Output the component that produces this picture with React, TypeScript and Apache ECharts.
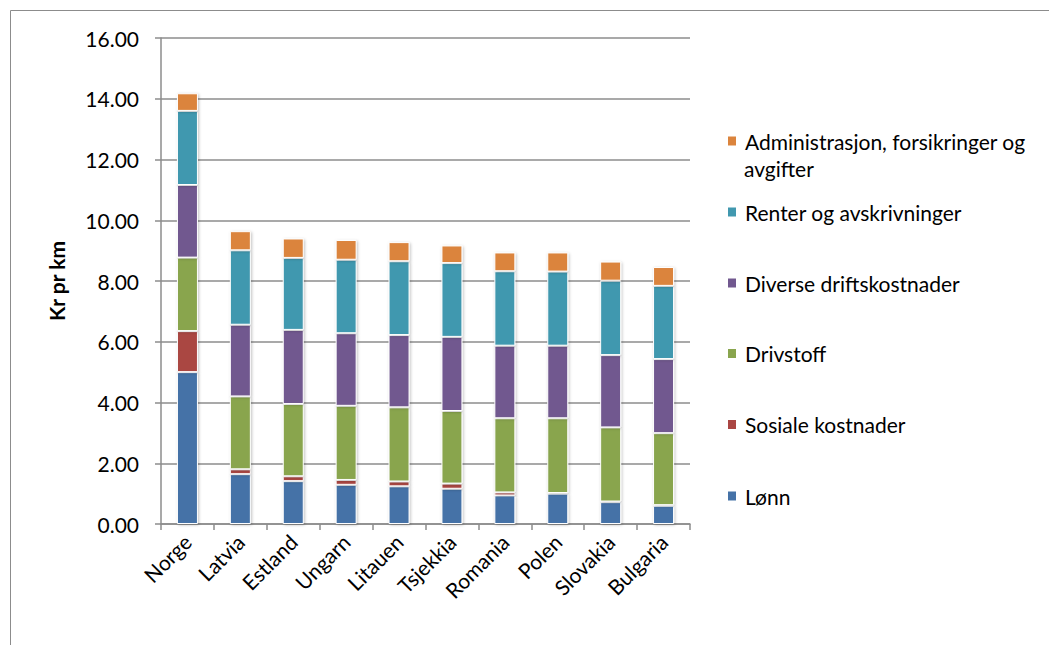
import React, { useEffect, useRef } from "react";
import * as echarts from "echarts";

const countries = ["Norge", "Latvia", "Estland", "Ungarn", "Litauen", "Tsjekkia", "Romania", "Polen", "Slovakia", "Bulgaria"];
const seriesNames = [
  "Lønn",
  "Sosiale kostnader",
  "Drivstoff",
  "Diverse driftskostnader",
  "Renter og avskrivninger",
  "Administrasjon, forsikringer og avgifter",
];
const lonn = [5.0, 1.64, 1.41, 1.29, 1.24, 1.16, 0.94, 1.0, 0.72, 0.6];
const sosiale = [1.35, 0.16, 0.16, 0.16, 0.16, 0.17, 0.1, 0.02, 0.02, 0.02];
const drivstoff = [2.42, 2.4, 2.38, 2.44, 2.44, 2.39, 2.44, 2.46, 2.44, 2.37];
const diverse = [2.39, 2.36, 2.44, 2.39, 2.38, 2.44, 2.39, 2.39, 2.38, 2.44];
const renter = [2.44, 2.45, 2.37, 2.42, 2.43, 2.43, 2.45, 2.44, 2.45, 2.41];
const admin = [0.58, 0.63, 0.64, 0.65, 0.63, 0.58, 0.62, 0.63, 0.63, 0.62];
const colors = ["#4572A7", "#AA4643", "#89A54E", "#71588F", "#4198AF", "#DB843D"];
const yTicks = { min: 0, max: 16, interval: 2 };

const FONT = "Lato";

export default function App() {
  const ref = useRef<HTMLDivElement>(null);
  useEffect(() => {
    const chart = echarts.init(ref.current!, undefined, { renderer: "svg" });
    const values = [lonn, sosiale, drivstoff, diverse, renter, admin];
    const legendCenters = [496, 424.5, 353.5, 283, 212, 141];
    const legends = seriesNames.map((n, i) => ({
      data: [n],
      orient: "vertical",
      left: 726,
      top: legendCenters[i] - 11,
      padding: 0,
      itemWidth: 10,
      itemHeight: 11,
      icon: "rect",
      selectedMode: false,
      formatter: (name: string) =>
        name === seriesNames[5] ? "Administrasjon, forsikringer og" : name,
      textStyle: {
        fontFamily: FONT,
        fontSize: 21,
        color: "#000",
        lineHeight: 22,
        padding: [0, 0, 0, 3],
      },
    }));
    chart.setOption({
      animation: false,
      backgroundColor: "#fff",
      textStyle: { fontFamily: FONT },
      grid: { left: 161, right: 359, top: 38, bottom: 121, containLabel: false },
      legend: legends,
      graphic: [
        {
          type: "rect",
          shape: { x: 10.5, y: 10.5, width: 1100, height: 700 },
          style: { fill: "none", stroke: "#8c8c8c", lineWidth: 1 },
          silent: true,
        },
        {
          type: "text",
          left: 744,
          top: 158,
          style: { text: "avgifter", font: `21px ${FONT}`, fill: "#000" },
        },
      ],
      xAxis: {
        type: "category",
        data: countries,
        axisLine: { lineStyle: { color: "#8c8c8c", width: 1.5 } },
        axisTick: { show: true, length: 6, lineStyle: { color: "#8c8c8c", width: 1.5 } },
        axisLabel: { rotate: 45, fontSize: 21, color: "#000", fontFamily: FONT, margin: 14 },
      },
      yAxis: {
        type: "value",
        min: yTicks.min,
        max: yTicks.max,
        interval: yTicks.interval,
        name: "Kr pr km",
        nameLocation: "middle",
        nameGap: 94,
        nameRotate: 90,
        nameTextStyle: { fontSize: 21, fontWeight: "bold", color: "#000", fontFamily: FONT },
        axisLine: { show: true, lineStyle: { color: "#8c8c8c", width: 1.5 } },
        axisTick: { show: true, length: 6, lineStyle: { color: "#8c8c8c", width: 1.5 } },
        axisLabel: {
          formatter: (v: number) => v.toFixed(2),
          fontSize: 21,
          color: "#000",
          fontFamily: FONT,
          margin: 22,
        },
        splitLine: { lineStyle: { color: "#8c8c8c", width: 1.5 } },
      },
      series: seriesNames.map((n, i) => ({
        name: n,
        type: "bar",
        stack: "total",
        barWidth: 21,
        data: values[i],
        itemStyle: {
          color: colors[i],
          borderColor: "#fff",
          borderWidth: 1,
          shadowBlur: 3,
          shadowColor: "rgba(0,0,0,0.25)",
          shadowOffsetX: 1,
          shadowOffsetY: 1,
        },
      })),
    });
    return () => chart.dispose();
  }, []);
  return (
    <div
      ref={ref}
      style={{ position: "fixed", left: 0, top: 0, width: 1049, height: 645 }}
    />
  );
}
